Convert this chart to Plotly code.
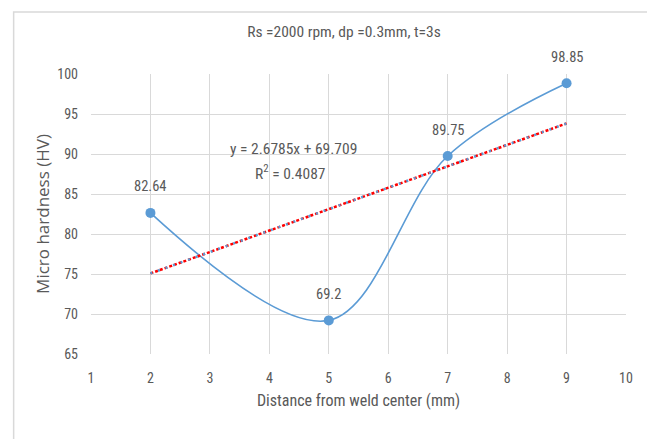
import plotly.graph_objects as go

x_vals = [2, 5, 7, 9]
hardness = [82.64, 69.2, 89.75, 98.85]
point_labels = ["82.64", "69.2", "89.75", "98.85"]
trend_x = [2, 9]
trend_y = [75.07, 93.82]
x_ticks = [1, 2, 3, 4, 5, 6, 7, 8, 9, 10]
y_ticks = [65, 70, 75, 80, 85, 90, 95, 100]

NARROW = "Liberation Sans Narrow, Roboto Condensed, Arial Narrow, sans-serif"
blue = "#5B9BD5"
grid = "#D9D9D9"
txt = "#595959"

fig = go.Figure()
fig.add_trace(go.Scatter(
    x=x_vals, y=hardness, mode="lines+markers",
    line=dict(color=blue, width=1.6, shape="spline", smoothing=1.0),
    marker=dict(color=blue, size=10),
    showlegend=False, cliponaxis=False))
fig.add_trace(go.Scatter(
    x=trend_x, y=trend_y, mode="lines",
    line=dict(color="#FF0000", width=2.5, dash="3px,2px"),
    showlegend=False))
fig.add_trace(go.Scatter(
    x=trend_x, y=trend_y, mode="lines",
    line=dict(color=blue, width=2.5, dash="2px,6px"),
    showlegend=False))

for xv, yv, lab in zip(x_vals, hardness, point_labels):
    fig.add_annotation(x=xv, y=yv, xref="x", yref="y", text=lab,
                       showarrow=False, yshift=26,
                       font=dict(family=NARROW, size=14.5, color=txt))

fig.add_annotation(x=4.40, y=90.6, xref="x", yref="y",
                   text="y = 2.6785x + 69.709", showarrow=False,
                   font=dict(family=NARROW, size=15.5, color=txt))
fig.add_annotation(x=4.35, y=87.75, xref="x", yref="y",
                   text="R<sup>2</sup> = 0.4087", showarrow=False,
                   font=dict(family=NARROW, size=15.5, color=txt))

fig.add_shape(type="rect", xref="paper", yref="paper",
              x0=-0.1446, x1=1.043, y0=-0.4, y1=1.221,
              line=dict(color="#D9D9D9", width=1.5), layer="below")

fig.update_layout(
    width=655, height=439,
    margin=dict(l=83, r=37, t=66, b=93, autoexpand=False),
    paper_bgcolor="white", plot_bgcolor="white",
    title=dict(text="Rs =2000 rpm, dp =0.3mm, t=3s", x=0.513, xanchor="center",
               xref="container", yref="container",
               y=1 - 24 / 439, yanchor="middle",
               font=dict(family=NARROW, size=15.5, color=txt)),
    xaxis=dict(range=[1, 10], tickvals=x_ticks, showgrid=True, gridcolor=grid,
               gridwidth=1, zeroline=False, showline=False, ticks="",
               automargin=False, ticklabelstandoff=14,
               tickfont=dict(family=NARROW, size=14, color=txt),
               title=dict(text="Distance from weld center (mm)",
                          font=dict(family=NARROW, size=16, color=txt), standoff=9)),
    yaxis=dict(range=[65, 100], tickvals=y_ticks, showgrid=True, gridcolor=grid,
               gridwidth=1, zeroline=False, showline=False, ticks="",
               automargin=False, ticklabelstandoff=12,
               tickfont=dict(family=NARROW, size=14, color=txt),
               title=dict(text="Micro hardness (HV)",
                          font=dict(family="Open Sans, sans-serif", size=17, color=txt),
                          standoff=3)),
)

fig.write_html("out.html")
